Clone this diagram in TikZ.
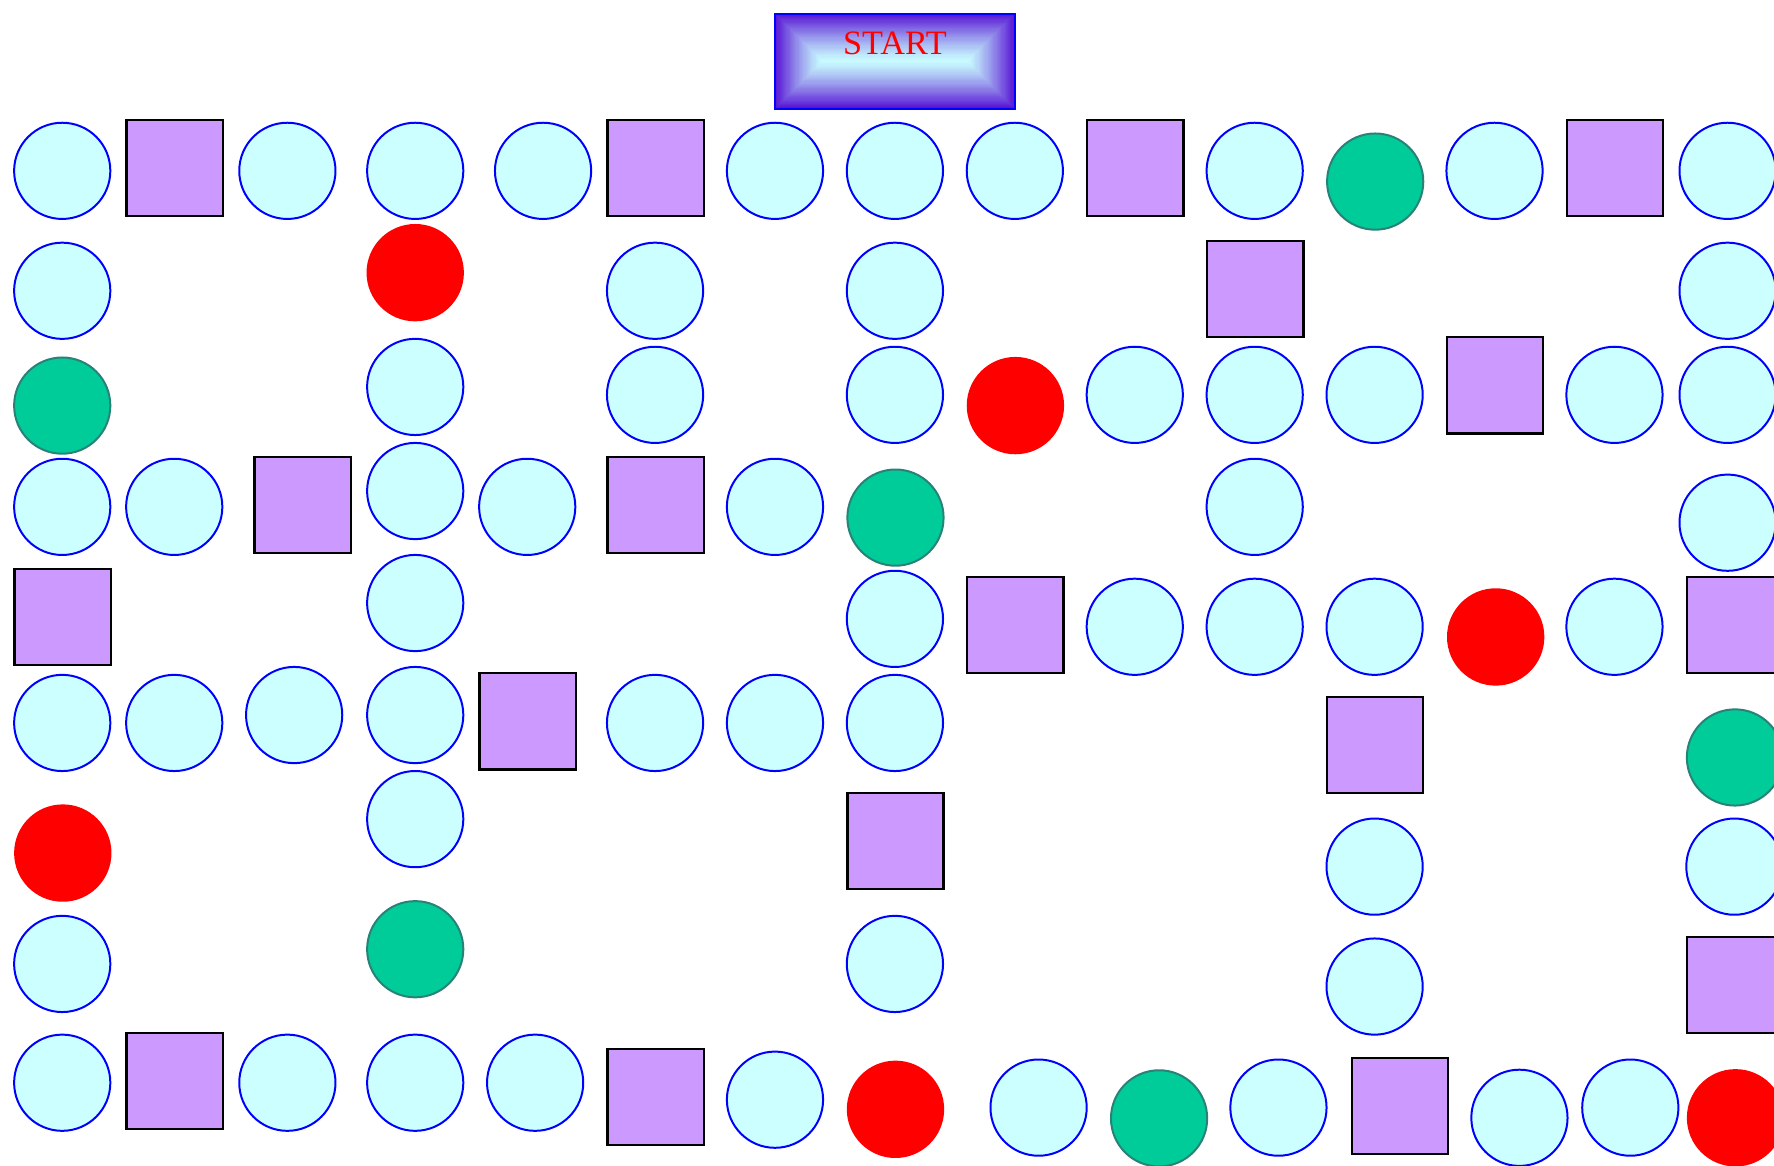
\documentclass[tikz,border=0pt]{standalone}
\usepackage{fontspec}
\setmainfont{Liberation Serif}
\definecolor{tilecyan}{RGB}{204,255,255}
\definecolor{cardlilac}{RGB}{204,153,255}
\definecolor{bonusgreen}{RGB}{0,204,153}
\definecolor{bonusedge}{RGB}{40,130,120}
\definecolor{startedge}{RGB}{88,20,212}
\definecolor{startmid}{RGB}{200,250,255}
\tikzset{
  tile/.style={circle, draw=blue, fill=tilecyan, line width=0.5pt, minimum size=0.85cm, inner sep=0pt},
  card/.style={rectangle, draw=black, fill=cardlilac, line width=0.6pt, minimum size=0.85cm, inner sep=0pt},
  bonus/.style={circle, draw=bonusedge, fill=bonusgreen, line width=0.5pt, minimum size=0.85cm, inner sep=0pt},
  trap/.style={circle, fill=red, minimum size=0.86cm, inner sep=0pt},
  startlabel/.style={font=\fontsize{8.6}{10}\selectfont, text=red},
}

\begin{document}
\begin{tikzpicture}[x=0.01cm, y=-0.01cm]
\useasboundingbox (0,0) rectangle (1568,1030);
\clip (0,0) rectangle (1568,1030);
% start box
\foreach \i in {0,...,41}
  \pgfmathsetmacro{\shade}{100*(1-\i/41)^1.2}
  \fill[startedge!\shade!startmid] (685+\i,12+\i) rectangle (897-\i,96-\i);
\draw[blue, line width=0.5pt] (685,12) rectangle (897,96);
\node[startlabel] (start) at (791,38) {START};
% top row
\node[tile]  (t1)  at (55,151) {};
\node[card]  (t2)  at (154.5,148.5) {};
\node[tile]  (t3)  at (254,151) {};
\node[tile]  (t4)  at (367,151) {};
\node[tile]  (t5)  at (480,151) {};
\node[card]  (t6)  at (579.5,148.5) {};
\node[tile]  (t7)  at (685,151) {};
\node[tile]  (t8)  at (791,151) {};
\node[tile]  (t9)  at (897,151) {};
\node[card]  (t10) at (1003.5,148.5) {};
\node[tile]  (t11) at (1109,151) {};
\node[bonus] (t12) at (1215.5,160.5) {};
\node[tile]  (t13) at (1321,151) {};
\node[card]  (t14) at (1427.5,148.5) {};
\node[tile]  (t15) at (1527,151) {};
% second row
\node[tile]  (a1) at (55,257) {};
\node[trap]  (a2) at (367,241) {};
\node[tile]  (a3) at (579,257) {};
\node[tile]  (a4) at (791,257) {};
\node[card]  (a5) at (1109.5,255.5) {};
\node[tile]  (a6) at (1527,257) {};
% third row
\node[bonus] (b1)  at (55,358.5) {};
\node[tile]  (b2)  at (367,342) {};
\node[tile]  (b3)  at (579,349) {};
\node[tile]  (b4)  at (791,349) {};
\node[trap]  (b5)  at (897.5,358.5) {};
\node[tile]  (b6)  at (1003,349) {};
\node[tile]  (b7)  at (1109,349) {};
\node[tile]  (b8)  at (1215,349) {};
\node[card]  (b9)  at (1321.5,340.5) {};
\node[tile]  (b10) at (1427,349) {};
\node[tile]  (b11) at (1527,349) {};
% fourth row
\node[tile]  (c1)  at (55,448) {};
\node[tile]  (c2)  at (154,448) {};
\node[card]  (c3)  at (267.5,446.5) {};
\node[tile]  (c4)  at (367,434) {};
\node[tile]  (c5)  at (466,448) {};
\node[card]  (c6)  at (579.5,446.5) {};
\node[tile]  (c7)  at (685,448) {};
\node[bonus] (c8)  at (791.5,457.5) {};
\node[tile]  (c9)  at (1109,448) {};
\node[tile]  (c10) at (1527,462) {};
% fifth row
\node[card]  (d1)  at (55.5,545.5) {};
\node[tile]  (d2)  at (367,533) {};
\node[tile]  (d3)  at (791,547) {};
\node[card]  (d4)  at (897.5,552.5) {};
\node[tile]  (d5)  at (1003,554) {};
\node[tile]  (d6)  at (1109,554) {};
\node[tile]  (d7)  at (1215,554) {};
\node[trap]  (d8)  at (1322,563) {};
\node[tile]  (d9)  at (1427,554) {};
\node[card]  (d10) at (1533.5,552.5) {};
% sixth row
\node[tile]  (e1)  at (55,639) {};
\node[tile]  (e2)  at (154,639) {};
\node[tile]  (e3)  at (260,632) {};
\node[tile]  (e4)  at (367,632) {};
\node[card]  (e5)  at (466.5,637.5) {};
\node[tile]  (e6)  at (579,639) {};
\node[tile]  (e7)  at (685,639) {};
\node[tile]  (e8)  at (791,639) {};
\node[card]  (e9)  at (1215.5,658.5) {};
\node[bonus] (e10) at (1533.5,669.5) {};
% seventh row
\node[trap]  (f1) at (55.5,754) {};
\node[tile]  (f2) at (367,724) {};
\node[card]  (f3) at (791.5,743.5) {};
\node[tile]  (f4) at (1215,766) {};
\node[tile]  (f5) at (1533,766) {};
% eighth row
\node[tile]  (g1) at (55,852) {};
\node[bonus] (g2) at (367,839) {};
\node[tile]  (g3) at (791,852) {};
\node[tile]  (g4) at (1215,872) {};
\node[card]  (g5) at (1533.5,870.5) {};
% bottom row
\node[tile]  (h1)  at (55,957) {};
\node[card]  (h2)  at (154.5,955.5) {};
\node[tile]  (h3)  at (254,957) {};
\node[tile]  (h4)  at (367,957) {};
\node[tile]  (h5)  at (473,957) {};
\node[card]  (h6)  at (579.5,969.5) {};
\node[tile]  (h7)  at (685,972) {};
\node[trap]  (h8)  at (791.5,980.5) {};
\node[tile]  (h9)  at (918,979) {};
\node[bonus] (h10) at (1024.5,988.5) {};
\node[tile]  (h11) at (1130,979) {};
\node[card]  (h12) at (1237.5,977.5) {};
\node[tile]  (h13) at (1343,988) {};
\node[tile]  (h14) at (1441,979) {};
\node[trap]  (h15) at (1534,988) {};
\end{tikzpicture}
\end{document}
